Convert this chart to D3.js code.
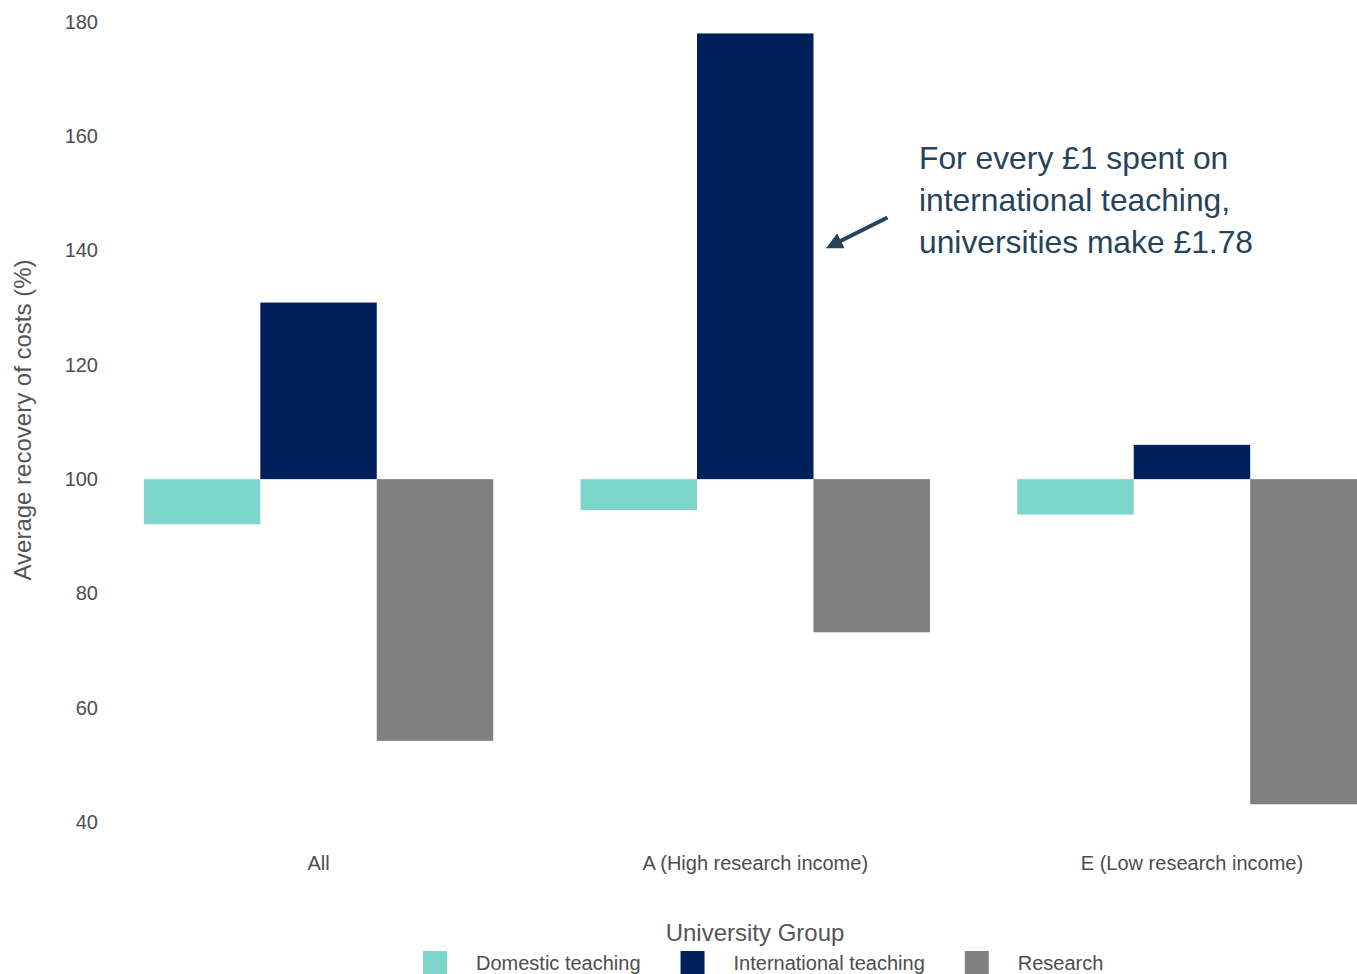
<!DOCTYPE html>
<html>
<head>
<meta charset="utf-8">
<script src="https://cdn.jsdelivr.net/npm/d3@7/dist/d3.min.js"></script>
<style>
  html, body { margin: 0; padding: 0; background: #ffffff; }
  svg { display: block; font-family: "Liberation Sans", Arial, sans-serif; }
</style>
</head>
<body>
<svg id="chart" width="1357" height="974"></svg>
<script>
// Cost recovery by university group (% of costs recovered)
const groups = ["All", "A (High research income)", "E (Low research income)"];
const series = ["Domestic teaching", "International teaching", "Research"];
const domesticValues = [92.1, 94.6, 93.8];
const internationalValues = [130.9, 178, 106.0];
const researchValues = [54.2, 73.2, 43.1];
const yTicks = [40, 60, 80, 100, 120, 140, 160, 180];
const colours = ["#7dd6cc", "#00205b", "#808080"];
const baseline = 100;

const rows = groups.map((g, i) => ({
  group: g,
  values: [domesticValues[i], internationalValues[i], researchValues[i]]
}));

const svg = d3.select("#chart");

const x = d3.scaleBand().domain(groups).range([56.5, 1454]).paddingInner(0.2).paddingOuter(0.2);
const xSub = d3.scaleBand().domain(series).range([0, x.bandwidth()]).padding(0);
const y = d3.scaleLinear().domain([40, 180]).range([822, 22]);
const colour = d3.scaleOrdinal().domain(series).range(colours);

// Bars rise or fall from the 100% line
const gGroups = svg.append("g").selectAll("g")
  .data(rows).join("g")
  .attr("transform", d => `translate(${x(d.group)},0)`);

gGroups.selectAll("rect")
  .data(d => d.values.map((v, k) => ({ key: series[k], value: v })))
  .join("rect")
  .attr("x", d => xSub(d.key))
  .attr("width", xSub.bandwidth())
  .attr("y", d => y(Math.max(d.value, baseline)))
  .attr("height", d => Math.abs(y(d.value) - y(baseline)))
  .attr("fill", d => colour(d.key));

// Y axis labels only (no line, no ticks)
const yAxis = svg.append("g")
  .attr("transform", "translate(106,0)")
  .call(d3.axisLeft(y).tickValues(yTicks).tickSize(0).tickPadding(8));
yAxis.select(".domain").remove();
yAxis.selectAll("text")
  .attr("font-size", 20).attr("fill", "#4d4d4d")
  .attr("font-family", "Liberation Sans, Arial, sans-serif");

// X axis labels
const xAxis = svg.append("g")
  .attr("transform", "translate(0,848)")
  .call(d3.axisBottom(x).tickSize(0).tickPadding(8));
xAxis.select(".domain").remove();
xAxis.selectAll("text")
  .attr("font-size", 20).attr("fill", "#4d4d4d")
  .attr("font-family", "Liberation Sans, Arial, sans-serif");

// Y axis title
svg.append("text")
  .attr("transform", "translate(31,420) rotate(-90)")
  .attr("text-anchor", "middle")
  .attr("font-size", 24)
  .attr("fill", "#555555")
  .text("Average recovery of costs (%)");

// Legend
svg.append("text")
  .attr("x", 755).attr("y", 941)
  .attr("text-anchor", "middle")
  .attr("font-size", 24)
  .attr("fill", "#555555")
  .text("University Group");

const legend = svg.append("g");
let lx = 423;
series.forEach(s => {
  legend.append("rect")
    .attr("x", lx).attr("y", 951)
    .attr("width", 24).attr("height", 24)
    .attr("fill", colour(s));
  const t = legend.append("text")
    .attr("x", lx + 53).attr("y", 970)
    .attr("font-size", 20)
    .attr("fill", "#4d4d4d")
    .text(s);
  lx = lx + 53 + t.node().getComputedTextLength() + 40;
});

// Annotation on the international teaching bar of group A
const noteColour = "#26435a";
const defs = svg.append("defs");
defs.append("marker")
  .attr("id", "arrowhead")
  .attr("viewBox", "0 0 10 10")
  .attr("refX", 5).attr("refY", 5)
  .attr("markerWidth", 4.2).attr("markerHeight", 4.2)
  .attr("markerUnits", "strokeWidth")
  .attr("orient", "auto")
  .append("path")
  .attr("d", "M0,0 L10,5 L0,10 Z")
  .attr("fill", noteColour);

const tipX = x(groups[1]) + xSub(series[1]) + xSub.bandwidth() + 14;
const tipY = y(140) - 3;
svg.append("line")
  .attr("x1", tipX + 60).attr("y1", tipY - 30)
  .attr("x2", tipX + 6).attr("y2", tipY - 3)
  .attr("stroke", noteColour)
  .attr("stroke-width", 4)
  .attr("marker-end", "url(#arrowhead)");

const noteLines = ["For every £1 spent on", "international teaching,", "universities make £1.78"];
const note = svg.append("text")
  .attr("x", 919).attr("y", 169)
  .attr("font-size", 31.8)
  .attr("fill", noteColour);
noteLines.forEach((line, i) => {
  note.append("tspan").attr("x", 919).attr("dy", i === 0 ? 0 : 42).text(line);
});
</script>
</body>
</html>
